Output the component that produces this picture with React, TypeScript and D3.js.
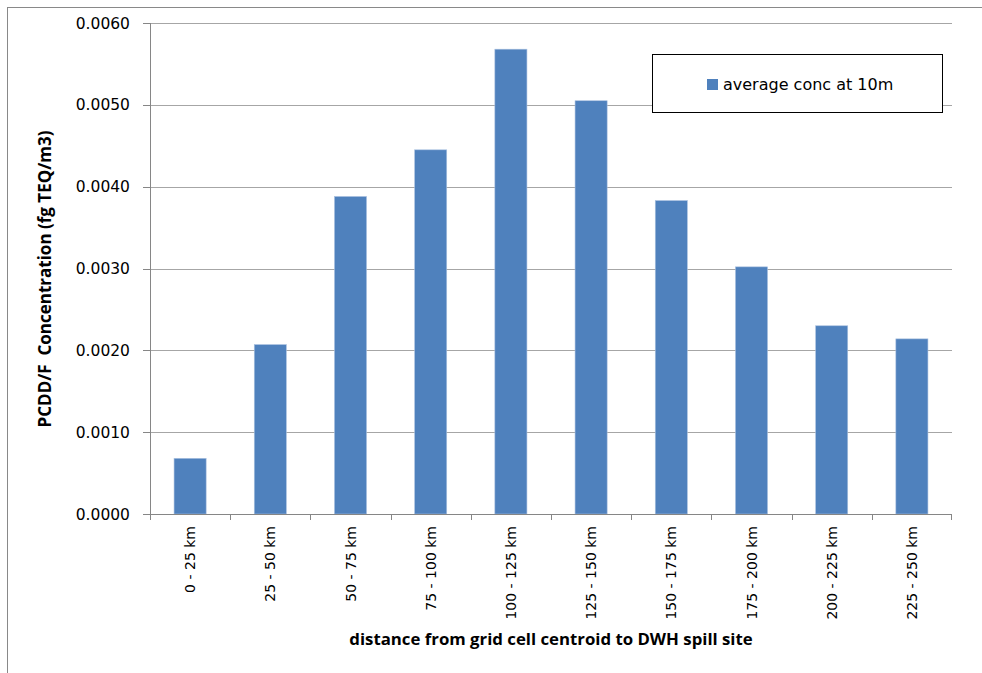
import React from "react";
import * as d3 from "d3";

const categories = [
  "0 - 25 km", "25 - 50 km", "50 - 75 km", "75 - 100 km", "100 - 125 km",
  "125 - 150 km", "150 - 175 km", "175 - 200 km", "200 - 225 km", "225 - 250 km",
];
const avgConc = [0.00068, 0.00207, 0.00388, 0.00445, 0.00568, 0.00505, 0.00383, 0.00302, 0.0023, 0.00214];
const yTicks = [0, 0.001, 0.002, 0.003, 0.004, 0.005, 0.006];
const seriesName = "average conc at 10m";
const yTitle = "PCDD/F  Concentration (fg TEQ/m3)";
const xTitle = "distance from grid cell centroid to DWH spill site";

const W = 982, H = 673;
const left = 150, right = 952, top = 23, bottom = 514;

export default function App() {
  const x = d3.scaleBand<string>().domain(categories).range([left, right]).paddingInner(0.6).paddingOuter(0.3);
  const xb = d3.scaleBand<string>().domain(categories).range([left, right]);
  const y = d3.scaleLinear().domain([0, 0.006]).range([bottom, top]);
  const tickFont = "'DejaVu Sans', sans-serif";
  const boldFont = "'Open Sans', sans-serif";
  return (
    <svg width={W} height={H} style={{ position: "absolute", left: 0, top: 0 }}>
      <rect x={0} y={0} width={W} height={H} fill="#fff" />
      <rect x={7.5} y={7.5} width={W + 10} height={H + 10} fill="none" stroke="#898989" strokeWidth={1} />
      {yTicks.map((t) => (
        <g key={t}>
          {t > 0 && <line x1={left} x2={right} y1={Math.round(y(t)) + 0.5} y2={Math.round(y(t)) + 0.5} stroke="#a6a6a6" />}
          <line x1={left - 7} x2={left} y1={Math.round(y(t)) + 0.5} y2={Math.round(y(t)) + 0.5} stroke="#868686" />
          <text x={130} y={y(t) + 5.5} textAnchor="end" fontFamily={tickFont} fontSize={15.5} fill="#000">
            {t.toFixed(4)}
          </text>
        </g>
      ))}
      {categories.map((c, i) => (
        <rect key={c} x={x(c)!} y={y(avgConc[i])} width={x.bandwidth()} height={bottom - y(avgConc[i])}
          fill="#4f81bd" stroke="#a9c0df" strokeWidth={0.6} />
      ))}
      <line x1={left + 0.5} x2={left + 0.5} y1={top} y2={bottom} stroke="#868686" />
      <line x1={left} x2={right} y1={bottom + 0.5} y2={bottom + 0.5} stroke="#868686" />
      {categories.map((c) => (
        <line key={"t" + c} x1={Math.round(xb(c)!) + 0.5} x2={Math.round(xb(c)!) + 0.5} y1={bottom} y2={bottom + 6} stroke="#868686" />
      ))}
      <line x1={right - 0.5} x2={right - 0.5} y1={bottom} y2={bottom + 6} stroke="#868686" />
      {categories.map((c) => {
        const cx = xb(c)! + xb.bandwidth() / 2;
        return (
          <text key={"l" + c} transform={`translate(${cx + 5},${526}) rotate(-90)`} textAnchor="end"
            fontFamily={tickFont} fontSize={14} fill="#000">{c}</text>
        );
      })}
      <text x={551} y={645} textAnchor="middle" fontFamily={boldFont} fontWeight="bold" fontSize={16.8} fill="#000">{xTitle}</text>
      <text transform={`translate(51,279) rotate(-90)`} textAnchor="middle" fontFamily={boldFont} fontWeight="bold" fontSize={17} fill="#000" style={{ whiteSpace: "pre" }}>{yTitle}</text>
      <rect x={652.5} y={54.5} width={290} height={58} fill="#fff" stroke="#000" strokeWidth={1} />
      <rect x={707} y={79} width={11} height={11} fill="#4f81bd" />
      <text x={723} y={90} fontFamily={tickFont} fontSize={16} fill="#000">{seriesName}</text>
    </svg>
  );
}
